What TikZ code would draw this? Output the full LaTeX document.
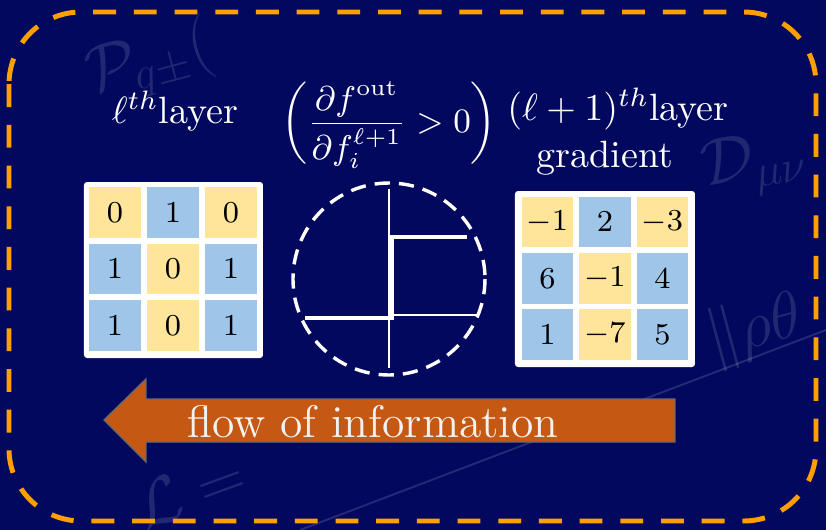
\documentclass[tikz,border=0pt]{standalone}
\usepackage{amsmath,amssymb}
\usepackage{xcolor}
\usepackage{tikz}
\usetikzlibrary{positioning,calc}
\definecolor{deepnavy}{RGB}{2, 8, 94}
\definecolor{frameorange}{RGB}{255, 160, 0}
\definecolor{cellyellow}{RGB}{255, 229, 153}
\definecolor{cellblue}{RGB}{159, 197, 232}
\definecolor{flowrust}{RGB}{197, 88, 18}
\definecolor{flowedge}{RGB}{105, 105, 110}

\tikzset{
  cellbase/.style={minimum width=13.6pt, minimum height=13.3pt, inner sep=0pt, font=\footnotesize, text=black},
  cellY/.style={cellbase, fill=cellyellow},
  cellB/.style={cellbase, fill=cellblue},
  gridbox/.style={fill=white, rounded corners=0.8pt},
  caption/.style={text=white, inner sep=0pt},
  watermark/.style={text=white, opacity=0.13, font=\LARGE, inner sep=0pt},
}

\begin{document}
\begin{tikzpicture}[x=0.263pt, y=-0.263pt]
    % canvas
    \useasboundingbox (0,0) rectangle (826,530);
    \fill[deepnavy] (0,0) rectangle (826,530);

    % faint formulas in the background
    \node[watermark, rotate=15] (wmP) at (150,62) {$\mathcal{P}_{q\pm}($};
    \node[watermark, rotate=10] (wmD) at (755,165) {$\mathcal{D}_{\mu\nu}$};
    \node[watermark, rotate=20] (wmL) at (190,490) {$\mathcal{L}=$};
    \node[watermark, rotate=15] (wmR) at (755,330) {$\|\rho\theta$};
    \draw[white, opacity=0.14, line width=0.5pt] (300,530) -- (826,330);

    % dashed frame
    \draw[frameorange, line width=1.3pt, dash pattern=on 6pt off 4.7pt, rounded corners=19pt]
        (9,12) rectangle (816,521);

    % headings
    \node[caption, anchor=base] (lthl) at (175,123) {$\ell^{th}$layer};
    \node[caption, font=\small] (cond) at (389,125)
        {$\displaystyle\left(\frac{\partial f^{\mathrm{out}}}{\partial f_i^{\ell+1}} > 0\right)$};
    \node[caption, anchor=base] (nextl) at (618,120) {$(\ell+1)^{th}$layer};
    \node[caption, anchor=base] (grad) at (605,167) {gradient};

    % left grid: l-th layer
    \fill[gridbox] (84,182) rectangle (263,358);
    \foreach \r/\c/\v/\s in {1/1/0/Y, 1/2/1/B, 1/3/0/Y,
                             2/1/1/B, 2/2/0/Y, 2/3/1/B,
                             3/1/1/B, 3/2/0/Y, 3/3/1/B}
        \node[cell\s] (l\r\c) at ({115+58*(\c-1)}, {212.5+56.5*(\r-1)}) {$\v$};

    % right grid: gradient
    \fill[gridbox] (515,191) rectangle (695,367);
    \foreach \r/\c/\v/\s in {1/1/-1/Y, 1/2/2/B, 1/3/-3/Y,
                             2/1/6/B, 2/2/-1/Y, 2/3/4/B,
                             3/1/1/B, 3/2/-7/Y, 3/3/5/B}
        \node[cell\s] (g\r\c) at ({547.5+57.5*(\c-1)}, {222+56.3*(\r-1)}) {$\v$};

    % step function in a dashed circle
    \draw[white, line width=0.9pt, dash pattern=on 4pt off 2.4pt] (389,279) circle[radius=96];
    \draw[white, line width=0.5pt] (389,189) -- (389,368);
    \draw[white, line width=0.5pt] (389,315) -- (479,315);
    \draw[white, line width=1.3pt] (305,318) -- (392,318) -- (392,237) -- (467,237);

    % flow arrow
    \coordinate (tip) at (104,420);
    \filldraw[fill=flowrust, draw=flowedge, line width=0.35pt]
        (tip) -- (146,379) -- (146,399) -- (675,399) -- (675,442)
        -- (146,442) -- (146,462) -- cycle;
    \node[caption, anchor=base, font=\large, text=white!95!black] (flow) at (373,437) {flow of information};
\end{tikzpicture}
\end{document}
